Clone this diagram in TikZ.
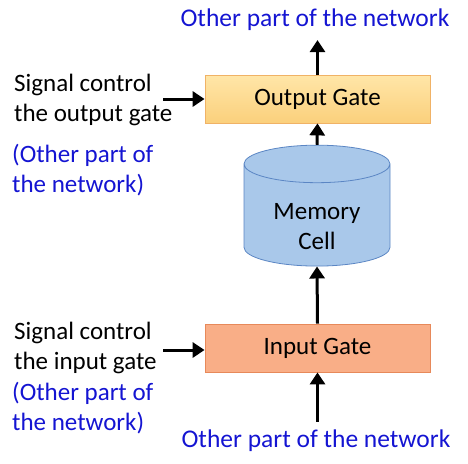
\documentclass[tikz,border=0pt]{standalone}
\usepackage{fontspec}
\setmainfont{Carlito}
\usepackage{xcolor}
\usetikzlibrary{shapes.geometric, arrows.meta, positioning}

\definecolor{netblue}{HTML}{1414D2}
\definecolor{outtop}{HTML}{FFE6A8}
\definecolor{outbot}{HTML}{FBD07C}
\definecolor{outline}{HTML}{F0B266}
\definecolor{infill}{HTML}{F9AE87}
\definecolor{inline}{HTML}{E7895A}
\definecolor{cellfill}{HTML}{A9C8EA}
\definecolor{cellline}{HTML}{5B86C4}

\begin{document}
\begin{tikzpicture}[
    x=1pt, y=-1pt,
    gate/.style={draw, line width=0.8pt, minimum width=225pt, minimum height=48pt, font=\fontsize{25}{30}\selectfont},
    mem/.style={cylinder, shape border rotate=90, aspect=0.4, draw=cellline, fill=cellfill, line width=0.8pt,
        minimum width=146pt, minimum height=104pt, align=center, font=\fontsize{25}{30}\selectfont},
    note/.style={align=left, inner sep=0pt, anchor=west, font=\fontsize{25}{30}\selectfont},
    other/.style={note, text=netblue},
    flow/.style={-{Triangle[length=12pt, width=15pt]}, line width=3pt}
]
\useasboundingbox (0,0) rectangle (468,463);

\node[gate, draw=outline, top color=outtop, bottom color=outbot] (outgate) at (317.5,99) {Output Gate};
\node[mem] (cell) at (317,218) {\rule{0pt}{33pt}Memory\\Cell};
\node[gate, draw=inline, fill=infill] (ingate) at (317.5,348) {Input Gate};

\node[inner sep=0pt, text=netblue, font=\fontsize{25.5}{30}\selectfont] (toptxt) at (315,20) {Other part of the network};
\node[inner sep=0pt, text=netblue, font=\fontsize{25.5}{30}\selectfont] (bottxt) at (316,441) {Other part of the network};

\node[note] (sigout) at (14,100) {Signal control\\the output gate};
\node[other] (othout) at (12,170) {(Other part of\\the network)};
\node[note] (sigin) at (14,348) {Signal control\\the input gate};
\node[other] (othin) at (12,408) {(Other part of\\the network)};

\coordinate (sigoutend) at (163,99);
\coordinate (siginend) at (163,350);

\draw[flow] (outgate.north) -- (outgate.north |- toptxt.south) [shorten >=9pt];
\draw[flow] (cell.top) -- (outgate.south);
\draw[flow] (ingate.north) -- (cell.bottom);
\draw[flow, shorten <=8pt] (bottxt.north -| ingate.south) -- (ingate.south);

\draw[flow] (sigoutend) -- (outgate.west);
\draw[flow] (siginend) -- (ingate.west |- siginend);
\end{tikzpicture}
\end{document}
